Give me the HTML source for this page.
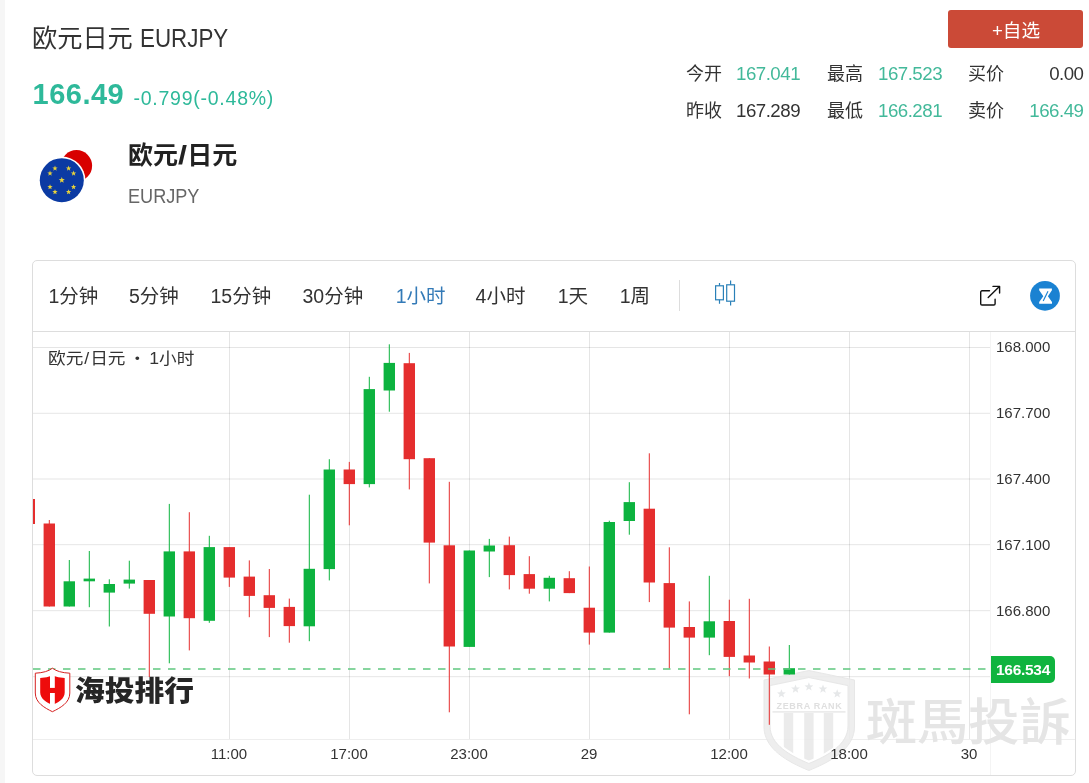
<!DOCTYPE html>
<html lang="zh-CN">
<head>
<meta charset="utf-8">
<title>欧元日元 EURJPY</title>
<style>
html,body{margin:0;padding:0;}
body{width:1089px;height:783px;overflow:hidden;background:#fff;position:relative;
 font-family:"Liberation Sans","Noto Sans CJK SC",sans-serif;color:#333;}
.abs{position:absolute;white-space:nowrap;line-height:1;}
.strip{position:absolute;left:0;top:0;width:4.6px;height:783px;background:#f6f6f6;}
.title{left:32px;top:24.8px;font-size:25.2px;color:#333;}
.title .en{display:inline-block;font-size:26px;transform:scaleX(.86);transform-origin:0 50%;margin-left:.5px;}
.price{left:32.5px;top:80.3px;letter-spacing:.5px;font-size:29px;font-weight:bold;color:#2eb99a;}
.chg{left:133.5px;top:88.7px;font-size:19.5px;color:#2eb99a;letter-spacing:.75px;}
.btn{left:948px;top:10px;width:135px;height:38px;background:#cb4a37;border-radius:3px;color:#fff;
 font-size:18.6px;text-align:center;line-height:41.6px;text-indent:1px;}
.st{font-size:18px;color:#333;}
.sv{font-size:18.7px;color:#333;letter-spacing:-.5px;}
.up{color:#43b99a;}
.name{left:128px;top:142.5px;font-size:25px;font-weight:bold;color:#222;}
.name i{font-style:normal;display:inline-block;transform:scaleX(1.3);margin:0 1px 0 1.2px;}
.code{left:128px;top:186.2px;font-size:20px;color:#666;transform:scaleX(.905);transform-origin:0 50%;}
.box{position:absolute;left:32px;top:260px;width:1042px;height:514px;border:1px solid #ddd;border-radius:5px;box-sizing:content-box;}
.tbline{position:absolute;left:33px;top:331px;width:1042px;height:1px;background:#ddd;}
.tab{top:286.8px;font-size:19.5px;color:#333;}
.tab.on{color:#337ab7;}
.sep{position:absolute;left:679px;top:280px;width:1px;height:31px;background:#ddd;}
.legend{left:48px;top:349.7px;font-size:16.3px;color:#333;transform:scaleX(1.085);transform-origin:0 50%;}
.legend i{font-style:normal;margin:0 2.8px;}
.legend b{font-weight:normal;margin:0 .9px;}
.pl{left:996px;font-size:15px;color:#333;}
.tl{top:746px;font-size:15px;color:#333;text-align:center;width:80px;}
.tag{left:991px;top:656px;width:64px;height:27px;background:#10b43f;border-radius:0 5px 5px 0;color:#fff;
 font-weight:bold;font-size:15.5px;line-height:27px;text-align:center;letter-spacing:-.3px;}
.zr{left:776.5px;top:701.5px;font-size:9px;font-weight:bold;color:#dfdfdf;letter-spacing:.68px;}
.wm{left:866.3px;top:697.5px;font-size:50px;font-weight:500;color:#e5e5e5;transform:scaleX(1.022);transform-origin:0 50%;font-family:"Liberation Sans","Noto Sans CJK TC",sans-serif;}
.hai{left:75.2px;top:676.6px;font-size:28.2px;font-weight:900;color:#262626;transform:scaleX(1.055);transform-origin:0 50%;}
</style>
</head>
<body>
<div class="strip"></div>
<div class="abs title">欧元日元 <span class="en">EURJPY</span></div>
<div class="abs price">166.49</div>
<div class="abs chg">-0.799(-0.48%)</div>
<div class="abs btn">+自选</div>

<div class="abs st" style="left:686px;top:64.6px">今开</div>
<div class="abs sv up" style="left:736px;top:64.6px">167.041</div>
<div class="abs st" style="left:827px;top:64.6px">最高</div>
<div class="abs sv up" style="left:878px;top:64.6px">167.523</div>
<div class="abs st" style="left:968px;top:64.6px">买价</div>
<div class="abs sv" style="right:5.5px;top:64.6px">0.00</div>
<div class="abs st" style="left:686px;top:102px">昨收</div>
<div class="abs sv" style="left:736px;top:102px">167.289</div>
<div class="abs st" style="left:827px;top:102px">最低</div>
<div class="abs sv up" style="left:878px;top:102px">166.281</div>
<div class="abs st" style="left:968px;top:102px">卖价</div>
<div class="abs sv up" style="right:5.5px;top:102px">166.49</div>

<svg class="abs" style="left:30px;top:140px" width="80" height="70" viewBox="30 140 80 70">
 <circle cx="76.5" cy="165.7" r="15.6" fill="#d80000"/>
 <circle cx="61.8" cy="180.2" r="23.6" fill="#fff"/>
 <circle cx="61.8" cy="180.2" r="22" fill="#0b3aa3"/>
 <g fill="#e8d23a"><polygon points="61.80,177.00 62.59,179.11 64.84,179.21 63.08,180.62 63.68,182.79 61.80,181.54 59.92,182.79 60.52,180.62 58.76,179.21 61.01,179.11"/><polygon points="68.60,165.62 69.29,167.47 71.26,167.56 69.72,168.79 70.25,170.69 68.60,169.60 66.95,170.69 67.48,168.79 65.94,167.56 67.91,167.47"/><polygon points="73.58,170.60 74.27,172.45 76.24,172.53 74.70,173.76 75.22,175.67 73.58,174.58 71.93,175.67 72.46,173.76 70.91,172.53 72.89,172.45"/><polygon points="73.58,184.20 74.27,186.05 76.24,186.13 74.70,187.36 75.22,189.27 73.58,188.18 71.93,189.27 72.46,187.36 70.91,186.13 72.89,186.05"/><polygon points="68.60,189.18 69.29,191.03 71.26,191.11 69.72,192.34 70.25,194.24 68.60,193.15 66.95,194.24 67.48,192.34 65.94,191.11 67.91,191.03"/><polygon points="55.00,189.18 55.69,191.03 57.66,191.11 56.12,192.34 56.65,194.24 55.00,193.15 53.35,194.24 53.88,192.34 52.34,191.11 54.31,191.03"/><polygon points="50.02,184.20 50.71,186.05 52.69,186.13 51.14,187.36 51.67,189.27 50.02,188.18 48.38,189.27 48.90,187.36 47.36,186.13 49.33,186.05"/><polygon points="50.02,170.60 50.71,172.45 52.69,172.53 51.14,173.76 51.67,175.67 50.02,174.58 48.38,175.67 48.90,173.76 47.36,172.53 49.33,172.45"/><polygon points="55.00,165.62 55.69,167.47 57.66,167.56 56.12,168.79 56.65,170.69 55.00,169.60 53.35,170.69 53.88,168.79 52.34,167.56 54.31,167.47"/></g>
</svg>
<div class="abs name">欧元<i>/</i>日元</div>
<div class="abs code">EURJPY</div>

<div class="box"></div>
<div class="tbline"></div>
<div class="abs tab" style="left:48.5px">1分钟</div>
<div class="abs tab" style="left:129px">5分钟</div>
<div class="abs tab" style="left:210.5px">15分钟</div>
<div class="abs tab" style="left:302.5px">30分钟</div>
<div class="abs tab on" style="left:395.7px">1小时</div>
<div class="abs tab" style="left:475.6px">4小时</div>
<div class="abs tab" style="left:557.7px">1天</div>
<div class="abs tab" style="left:619.7px">1周</div>
<div class="sep"></div>

<svg class="abs" style="left:0;top:0" width="1089" height="783" viewBox="0 0 1089 783">
<line x1="33" y1="347.5" x2="990" y2="347.5" stroke="#000" stroke-opacity=".1" stroke-width="1"/>
<line x1="33" y1="413.3" x2="990" y2="413.3" stroke="#000" stroke-opacity=".1" stroke-width="1"/>
<line x1="33" y1="479" x2="990" y2="479" stroke="#000" stroke-opacity=".1" stroke-width="1"/>
<line x1="33" y1="544.7" x2="990" y2="544.7" stroke="#000" stroke-opacity=".1" stroke-width="1"/>
<line x1="33" y1="610.7" x2="990" y2="610.7" stroke="#000" stroke-opacity=".1" stroke-width="1"/>
<line x1="33" y1="676.7" x2="990" y2="676.7" stroke="#000" stroke-opacity=".1" stroke-width="1"/>
<line x1="229.5" y1="332" x2="229.5" y2="739" stroke="#000" stroke-opacity=".1" stroke-width="1"/>
<line x1="349.5" y1="332" x2="349.5" y2="739" stroke="#000" stroke-opacity=".1" stroke-width="1"/>
<line x1="469.5" y1="332" x2="469.5" y2="739" stroke="#000" stroke-opacity=".1" stroke-width="1"/>
<line x1="589.5" y1="332" x2="589.5" y2="739" stroke="#000" stroke-opacity=".1" stroke-width="1"/>
<line x1="729.5" y1="332" x2="729.5" y2="739" stroke="#000" stroke-opacity=".1" stroke-width="1"/>
<line x1="849.5" y1="332" x2="849.5" y2="739" stroke="#000" stroke-opacity=".1" stroke-width="1"/>
<line x1="969.5" y1="332" x2="969.5" y2="739" stroke="#000" stroke-opacity=".1" stroke-width="1"/>
<line x1="33" y1="739.5" x2="1075" y2="739.5" stroke="#000" stroke-opacity=".065" stroke-width="1"/>
<line x1="990.5" y1="332" x2="990.5" y2="775" stroke="#000" stroke-opacity=".045" stroke-width="1"/>
</svg>
<svg class="abs" style="left:755px;top:660px;opacity:.88" width="110" height="120" viewBox="755 660 110 120">
 <defs><clipPath id="zc"><path d="M808.9 680.5 L845.5 688 V726 C845.5 743.5 826 753.5 808.9 760.5 C792 753.5 772.5 743.5 772.5 726 V688 Z"/></clipPath></defs>
 <path d="M808.9 670.5 L854.5 680 V727 C854.5 749 830 762 808.9 770.5 C788 762 764 749 764 727 V680 Z" fill="#ececec" stroke="#e4e4e4" stroke-width="1"/>
 <path d="M808.9 677.5 L848 685.6 V726 C848 745 827 756 808.9 763.5 C791 756 770 745 770 726 V685.6 Z" fill="#fff" stroke="#e4e4e4" stroke-width="1"/>
 <g clip-path="url(#zc)" fill="#e9e9e9">
  <rect x="772" y="711.2" width="75" height="1.4" fill="#e4e4e4"/>
  <rect x="783.8" y="713" width="9.4" height="60"/><rect x="804.2" y="713" width="9.4" height="60"/><rect x="823.8" y="713" width="9.4" height="60"/>
 </g>
 <g fill="#e3e5e7"><polygon points="781.40,689.20 782.54,692.24 785.77,692.38 783.24,694.40 784.10,697.52 781.40,695.73 778.70,697.52 779.56,694.40 777.03,692.38 780.26,692.24"/><polygon points="795.50,684.40 796.64,687.44 799.87,687.58 797.34,689.60 798.20,692.72 795.50,690.93 792.80,692.72 793.66,689.60 791.13,687.58 794.36,687.44"/><polygon points="808.90,682.30 810.04,685.34 813.27,685.48 810.74,687.50 811.60,690.62 808.90,688.83 806.20,690.62 807.06,687.50 804.53,685.48 807.76,685.34"/><polygon points="823.00,684.40 824.14,687.44 827.37,687.58 824.84,689.60 825.70,692.72 823.00,690.93 820.30,692.72 821.16,689.60 818.63,687.58 821.86,687.44"/><polygon points="837.20,689.20 838.34,692.24 841.57,692.38 839.04,694.40 839.90,697.52 837.20,695.73 834.50,697.52 835.36,694.40 832.83,692.38 836.06,692.24"/></g>
</svg>
<div class="abs zr">ZEBRA RANK</div>
<div class="abs wm">斑馬投訴</div>
<svg class="abs" style="left:0;top:0" width="1089" height="783" viewBox="0 0 1089 783">
<!-- candle icon -->
<g fill="none" stroke="#2a80b8" stroke-width="1.2">
 <rect x="715.6" y="285.8" width="7.8" height="14"/>
 <path d="M719.5 283v2.8M719.5 299.8v4"/>
 <rect x="726.7" y="284.8" width="7.8" height="16.4"/>
 <path d="M730.6 280.5v4.3M730.6 301.2v4.2"/>
</g>
<!-- popout icon -->
<g fill="none" stroke="#111" stroke-width="1.4" stroke-linecap="round" stroke-linejoin="round">
 <path d="M989.5 290.8H982a1.3 1.3 0 0 0-1.3 1.3v11.6a1.3 1.3 0 0 0 1.3 1.3h11.8a1.3 1.3 0 0 0 1.3-1.3v-4.5"/>
 <path d="M988.2 297.6L999.4 286.6M993 286.4h6.6v6.6"/>
</g>
<!-- blue round icon -->
<circle cx="1045" cy="295.8" r="14.9" fill="#1a82d2"/>
<path d="M1039.2 288.5h12.7v1.8l-4 5.9 4.1 5.8v1.8h-12.8v-1.8l4.1-5.8-4.1-5.9z" fill="#fff"/>
<path d="M1048 291.3l-4.8 9.6" stroke="#1a82d2" stroke-width="1.15" fill="none"/>
<rect x="33" y="499" width="2" height="25" fill="#e52e2e"/>
<rect x="48.8" y="520" width="1" height="86.5" fill="#e52e2e"/>
<rect x="43.6" y="523.5" width="11.4" height="83.0" fill="#e52e2e"/>
<rect x="68.8" y="560" width="1" height="46.5" fill="#0db33f"/>
<rect x="63.6" y="581.3" width="11.4" height="25.2" fill="#0db33f"/>
<rect x="88.8" y="551" width="1" height="56.2" fill="#0db33f"/>
<rect x="83.6" y="578.6" width="11.4" height="2.7" fill="#0db33f"/>
<rect x="108.8" y="579.3" width="1" height="47.2" fill="#0db33f"/>
<rect x="103.6" y="584" width="11.4" height="8.6" fill="#0db33f"/>
<rect x="128.8" y="560.7" width="1" height="27.9" fill="#0db33f"/>
<rect x="123.6" y="579.6" width="11.4" height="4.0" fill="#0db33f"/>
<rect x="148.8" y="580" width="1" height="97" fill="#e52e2e"/>
<rect x="143.6" y="580" width="11.4" height="33.8" fill="#e52e2e"/>
<rect x="168.8" y="503.9" width="1" height="159.4" fill="#0db33f"/>
<rect x="163.6" y="551.4" width="11.4" height="65.1" fill="#0db33f"/>
<rect x="188.8" y="512.2" width="1" height="138.2" fill="#e52e2e"/>
<rect x="183.6" y="551.4" width="11.4" height="66.8" fill="#e52e2e"/>
<rect x="208.8" y="535.8" width="1" height="87.0" fill="#0db33f"/>
<rect x="203.6" y="547.1" width="11.4" height="73.7" fill="#0db33f"/>
<rect x="228.8" y="547.1" width="1" height="39.8" fill="#e52e2e"/>
<rect x="223.6" y="547.1" width="11.4" height="30.5" fill="#e52e2e"/>
<rect x="248.8" y="560.4" width="1" height="56.8" fill="#e52e2e"/>
<rect x="243.6" y="576.6" width="11.4" height="19.3" fill="#e52e2e"/>
<rect x="268.8" y="569" width="1" height="68.1" fill="#e52e2e"/>
<rect x="263.6" y="595.2" width="11.4" height="12.7" fill="#e52e2e"/>
<rect x="288.8" y="598.6" width="1" height="44.1" fill="#e52e2e"/>
<rect x="283.6" y="606.9" width="11.4" height="19.2" fill="#e52e2e"/>
<rect x="308.8" y="494.7" width="1" height="146.5" fill="#0db33f"/>
<rect x="303.6" y="568.8" width="11.4" height="57.5" fill="#0db33f"/>
<rect x="328.8" y="459.2" width="1" height="121.2" fill="#0db33f"/>
<rect x="323.6" y="469.5" width="11.4" height="99.6" fill="#0db33f"/>
<rect x="348.8" y="461.9" width="1" height="63.4" fill="#e52e2e"/>
<rect x="343.6" y="469.5" width="11.4" height="14.6" fill="#e52e2e"/>
<rect x="368.8" y="376.8" width="1" height="110.6" fill="#0db33f"/>
<rect x="363.6" y="389.1" width="11.4" height="95.0" fill="#0db33f"/>
<rect x="388.8" y="344.3" width="1" height="67.4" fill="#0db33f"/>
<rect x="383.6" y="362.9" width="11.4" height="27.6" fill="#0db33f"/>
<rect x="408.8" y="352.9" width="1" height="136.5" fill="#e52e2e"/>
<rect x="403.6" y="363.2" width="11.4" height="96.0" fill="#e52e2e"/>
<rect x="428.8" y="458.2" width="1" height="125.2" fill="#e52e2e"/>
<rect x="423.6" y="458.2" width="11.4" height="84.4" fill="#e52e2e"/>
<rect x="448.8" y="481.8" width="1" height="230.5" fill="#e52e2e"/>
<rect x="443.6" y="545.3" width="11.4" height="101.2" fill="#e52e2e"/>
<rect x="468.8" y="550.5" width="1" height="96.4" fill="#0db33f"/>
<rect x="463.6" y="550.5" width="11.4" height="96.4" fill="#0db33f"/>
<rect x="488.8" y="538.9" width="1" height="38.2" fill="#0db33f"/>
<rect x="483.6" y="545.5" width="11.4" height="6.0" fill="#0db33f"/>
<rect x="508.8" y="536.6" width="1" height="52.8" fill="#e52e2e"/>
<rect x="503.6" y="545.2" width="11.4" height="29.9" fill="#e52e2e"/>
<rect x="528.8" y="556.2" width="1" height="37.5" fill="#e52e2e"/>
<rect x="523.6" y="574.1" width="11.4" height="14.6" fill="#e52e2e"/>
<rect x="548.8" y="575.8" width="1" height="25.6" fill="#0db33f"/>
<rect x="543.6" y="577.8" width="11.4" height="10.9" fill="#0db33f"/>
<rect x="568.8" y="571.2" width="1" height="21.9" fill="#e52e2e"/>
<rect x="563.6" y="578.2" width="11.4" height="14.9" fill="#e52e2e"/>
<rect x="588.8" y="566.5" width="1" height="78.1" fill="#e52e2e"/>
<rect x="583.6" y="607.7" width="11.4" height="24.9" fill="#e52e2e"/>
<rect x="608.8" y="520.7" width="1" height="111.9" fill="#0db33f"/>
<rect x="603.6" y="522" width="11.4" height="110.6" fill="#0db33f"/>
<rect x="628.8" y="482.2" width="1" height="52.5" fill="#0db33f"/>
<rect x="623.6" y="502.1" width="11.4" height="18.9" fill="#0db33f"/>
<rect x="648.8" y="453.3" width="1" height="148.8" fill="#e52e2e"/>
<rect x="643.6" y="508.7" width="11.4" height="73.8" fill="#e52e2e"/>
<rect x="668.8" y="547.3" width="1" height="121.2" fill="#e52e2e"/>
<rect x="663.6" y="583.1" width="11.4" height="44.5" fill="#e52e2e"/>
<rect x="688.8" y="601.4" width="1" height="112.9" fill="#e52e2e"/>
<rect x="683.6" y="627" width="11.4" height="10.6" fill="#e52e2e"/>
<rect x="708.8" y="575.8" width="1" height="79.4" fill="#0db33f"/>
<rect x="703.6" y="621.3" width="11.4" height="16.3" fill="#0db33f"/>
<rect x="728.8" y="599.7" width="1" height="76.4" fill="#e52e2e"/>
<rect x="723.6" y="621" width="11.4" height="35.9" fill="#e52e2e"/>
<rect x="748.8" y="598.8" width="1" height="79.7" fill="#e52e2e"/>
<rect x="743.6" y="655.5" width="11.4" height="7.0" fill="#e52e2e"/>
<rect x="768.8" y="646.5" width="1" height="78.3" fill="#e52e2e"/>
<rect x="763.6" y="661.5" width="11.4" height="13.0" fill="#e52e2e"/>
<rect x="788.8" y="645" width="1" height="29.5" fill="#0db33f"/>
<rect x="783.6" y="668.2" width="11.4" height="6.3" fill="#0db33f"/>
<line x1="33" y1="669" x2="991" y2="669" stroke="#5fc77f" stroke-width="1.6" stroke-dasharray="7.5 7.5"/>
<!-- haitou shield -->
<path d="M52.4 668.2 Q58 672.6 69.8 673.2 V693 C69.8 703 60 708 52.4 711.7 C45 708 35.3 703 35.3 693 V673.2 Q47 672.6 52.4 668.2Z" fill="#fff" stroke="#d62222" stroke-width="1"/>
<path d="M40.2 678 Q47 677.4 52.4 675.4 Q58 677.4 64.7 678 V692.5 C64.7 699 58 702.5 52.4 705.1 C47 702.5 40.2 699 40.2 692.5Z" fill="#ee0c0c"/>
<rect x="50" y="674" width="4.8" height="13.9" fill="#fff"/>
<rect x="50" y="693" width="4.8" height="13" fill="#fff"/>
</svg>
<div class="abs hai">海投排行</div>

<div class="abs legend">欧元<b>/</b>日元<i>・</i>1小时</div>
<div class="abs pl" style="top:339.3px">168.000</div>
<div class="abs pl" style="top:404.8px">167.700</div>
<div class="abs pl" style="top:470.5px">167.400</div>
<div class="abs pl" style="top:536.5px">167.100</div>
<div class="abs pl" style="top:602.5px">166.800</div>
<div class="abs tag">166.534</div>
<div class="abs tl" style="left:189px">11:00</div>
<div class="abs tl" style="left:309px">17:00</div>
<div class="abs tl" style="left:429px">23:00</div>
<div class="abs tl" style="left:549px">29</div>
<div class="abs tl" style="left:689px">12:00</div>
<div class="abs tl" style="left:809px">18:00</div>
<div class="abs tl" style="left:929px">30</div>
</body>
</html>
